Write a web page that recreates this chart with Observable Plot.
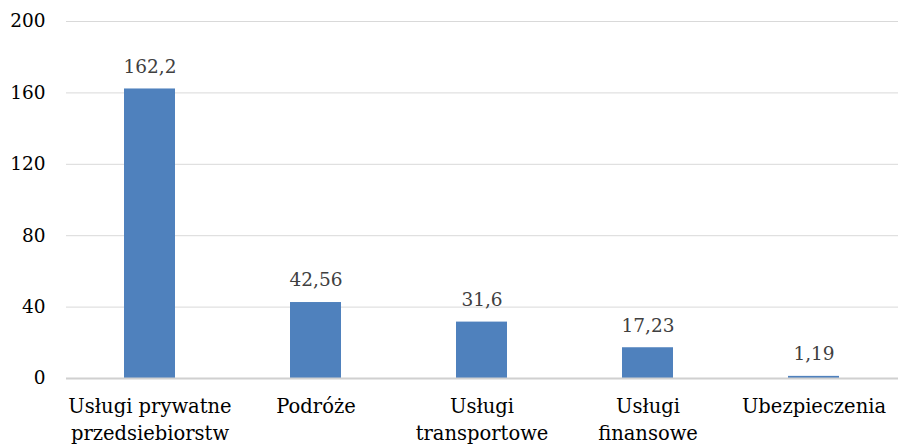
<!DOCTYPE html>
<html><head><meta charset="utf-8">
<script src="https://cdn.jsdelivr.net/npm/d3@7"></script>
<script src="https://cdn.jsdelivr.net/npm/@observablehq/plot@0.6"></script>
<style>
body{margin:0;background:#fff}
</style>
</head><body><div id="chart"></div>
<script>
const categories = ["Usługi prywatne\nprzedsiebiorstw", "Podróże", "Usługi\ntransportowe", "Usługi\nfinansowe", "Ubezpieczenia"];
const values = [162.2, 42.56, 31.6, 17.23, 1.19];
const yTicks = [0, 40, 80, 120, 160, 200];

const data = categories.map((c, i) => ({category: c, value: values[i]}));
const fmt = v => String(v).replace(".", ",");
const FONT = "'DejaVu Serif', serif";

const chart = Plot.plot({
  width: 898, height: 445,
  marginLeft: 66, marginRight: 0, marginTop: 21, marginBottom: 67,
  style: {fontFamily: FONT, fontSize: "19px", color: "#000", background: "#fff"},
  x: {domain: categories, paddingInner: 0.69, paddingOuter: 0.345, label: null},
  y: {domain: [0, 200], ticks: yTicks, label: null},
  marks: [
    Plot.gridY(yTicks, {stroke: "#d9d9d9", strokeOpacity: 1}),
    Plot.barY(data, {x: "category", y: "value", fill: "#4f81bd"}),
    Plot.ruleY([0], {stroke: "#d0d0d0", strokeWidth: 2}),
    Plot.text(data, {x: "category", y: "value", text: d => fmt(d.value), dy: -22, fill: "#404040", fontSize: 18.5}),
    Plot.axisY(yTicks, {tickSize: 0, tickPadding: 21, fontSize: 18.5, fill: "#000"}),
    Plot.axisX({tickSize: 0, tickPadding: 15, lineHeight: 1.38, fontSize: 19.5, fill: "#000"})
  ]
});
chart.querySelectorAll("text").forEach(t => t.style.fontFamily = FONT);
document.getElementById("chart").append(chart);
</script>
</body></html>
